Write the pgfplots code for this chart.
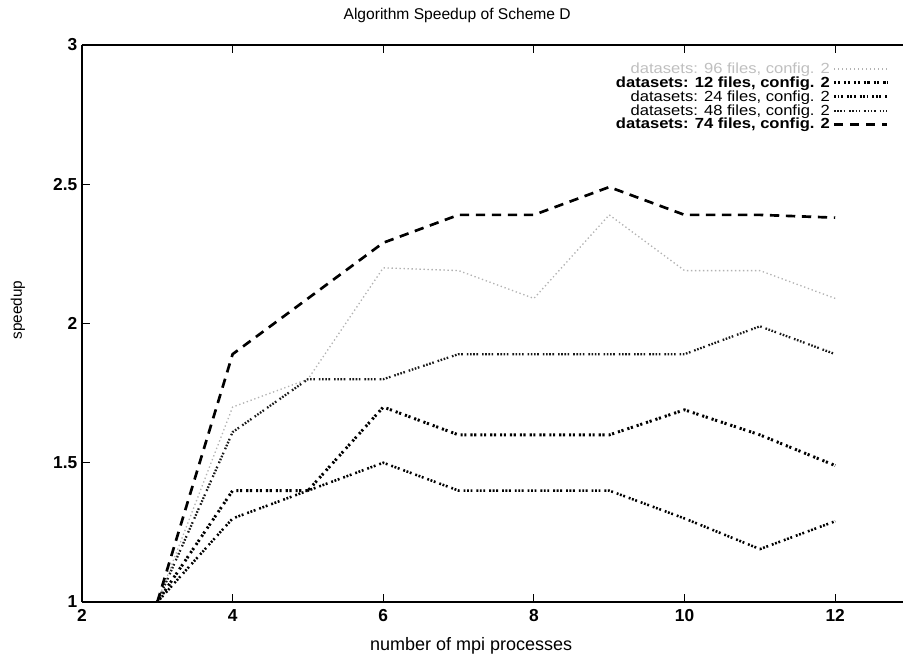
\documentclass[border=0pt]{standalone}
\usepackage{fontspec}
\setmainfont{Liberation Sans}
\newfontfamily\legfont[FakeStretch=1.13]{Liberation Sans}
\usepackage{pgfplots}
\pgfplotsset{compat=1.18}
\begin{document}
\begin{tikzpicture}
\begin{axis}[
  name=ax, at={(0,0)}, anchor=south west,
  scale only axis, width=615.75pt, height=417.75pt,
  xmin=2, xmax=12.9, ymin=1, ymax=3,
  xtick={2,4,6,8,10,12}, ytick={1,1.5,2,2.5,3},
  axis y line*=left,
  axis line style={line width=1.2pt},
  tick align=inside,
  major tick length=6pt,
  tick style={line width=0.8pt, black},
  /pgf/number format/assume math mode=true,
  tick label style={font=\bfseries\fontsize{13}{13}\selectfont},
  xticklabel style={yshift=-2pt},
  title={Algorithm Speedup of Scheme D},
  title style={font=\fontsize{11.7}{11.7}\selectfont, at={(0.457,1)}, anchor=south, yshift=7pt},
  xlabel={number of mpi processes},
  xlabel style={font=\fontsize{13.5}{13.5}\selectfont, at={(0.474,0)}, anchor=center, yshift=-33pt},
  ylabel={speedup},
  ylabel style={font=\fontsize{11.5}{11.5}\selectfont, at={(-0.078,0.524)}, anchor=center, rotate=0},
  legend cell align=right,
  legend plot pos=right,
  legend image code/.code={\draw[#1] (0pt,0pt) -- (40pt,0pt);},
  legend style={draw=none, fill=none, at={(0.988,0.975)}, anchor=north east,
    font=\legfont\fontsize{11}{11}\selectfont, row sep=0pt, nodes={inner ysep=0.5pt}},
]
\addplot[black!30, line width=1pt, dash pattern=on 1pt off 2pt] coordinates {
 (3,1.0) (4,1.70) (5,1.80) (6,2.20) (7,2.19) (8,2.09) (9,2.39) (10,2.19) (11,2.19) (12,2.09)};
\addlegendentry{\textcolor{black!25}{datasets: 96 files, config. 2}}
\addplot[black, line width=2.2pt, dash pattern=on 1.6pt off 1.2pt on 1.6pt off 3pt] coordinates {
 (3,1.0) (4,1.40) (5,1.40) (6,1.70) (7,1.60) (8,1.60) (9,1.60) (10,1.69) (11,1.60) (12,1.49)};
\addlegendentry{\textbf{datasets: 12 files, config. 2}}
\addplot[black, line width=1.9pt, dash pattern=on 1.4pt off 1.2pt on 1.4pt off 1.2pt on 1.4pt off 3pt] coordinates {
 (3,1.0) (4,1.30) (5,1.40) (6,1.50) (7,1.40) (8,1.40) (9,1.40) (10,1.30) (11,1.19) (12,1.29)};
\addlegendentry{datasets: 24 files, config. 2}
\addplot[black!90, line width=1.7pt, dash pattern=on 1.2pt off 1.2pt on 1.2pt off 1.2pt on 1.2pt off 1.2pt on 1.2pt off 3pt] coordinates {
 (3,1.0) (4,1.61) (5,1.80) (6,1.80) (7,1.89) (8,1.89) (9,1.89) (10,1.89) (11,1.99) (12,1.89)};
\addlegendentry{datasets: 48 files, config. 2}
\addplot[black, line width=2pt, dash pattern=on 7pt off 5pt] coordinates {
 (3,1.0) (4,1.89) (5,2.09) (6,2.29) (7,2.39) (8,2.39) (9,2.49) (10,2.39) (11,2.39) (12,2.38)};
\addlegendentry{\textbf{datasets: 74 files, config. 2}}
\end{axis}
\pgfresetboundingbox
\path (-61.5pt,-45pt) rectangle (615.75pt,451.5pt);
\end{tikzpicture}
\end{document}
